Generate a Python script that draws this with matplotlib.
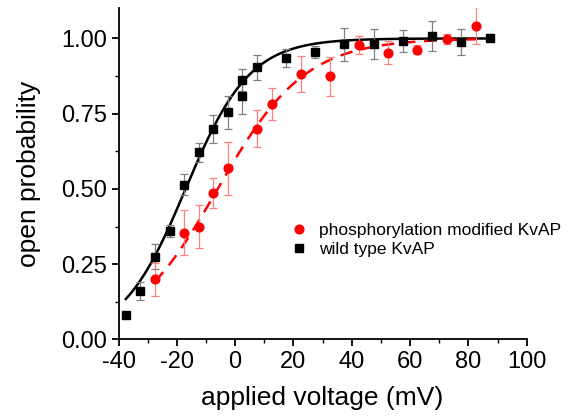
import numpy as np
import matplotlib
matplotlib.use("Agg")
import matplotlib.pyplot as plt
from matplotlib.ticker import MultipleLocator

plt.rcParams['font.family'] = ['Liberation Sans', 'DejaVu Sans']
plt.rcParams['axes.unicode_minus'] = False

# wild type KvAP
wt_v = [-37.5, -32.5, -27.5, -22.5, -17.5, -12.5, -7.5, -2.5, 2.5, 2.5, 7.5,
        17.5, 27.5, 37.5, 47.5, 57.5, 67.5, 77.5, 87.5]
wt_p = [0.08, 0.16, 0.275, 0.36, 0.514, 0.622, 0.70, 0.754, 0.861, 0.81, 0.904,
        0.934, 0.954, 0.98, 0.983, 0.992, 1.009, 0.989, 1.003]
wt_err = [0.0, 0.03, 0.042, 0.02, 0.035, 0.031, 0.047, 0.056, 0.036, 0.06, 0.042,
          0.03, 0.02, 0.054, 0.05, 0.036, 0.05, 0.044, 0.012]

# phosphorylation modified KvAP
ph_v = [-27.5, -17.5, -12.5, -7.5, -2.5, 7.5, 12.5, 22.5, 32.5, 42.5, 52.5,
        62.5, 72.5, 82.5]
ph_p = [0.20, 0.354, 0.375, 0.485, 0.568, 0.70, 0.782, 0.881, 0.875, 0.979,
        0.953, 0.963, 0.997, 1.042]
ph_err = [0.055, 0.075, 0.072, 0.05, 0.087, 0.062, 0.053, 0.06, 0.065, 0.03,
          0.039, 0.015, 0.017, 0.062]

# Boltzmann fit parameters (V1/2, slope)
wt_fit = (-17.0, 11.0)
ph_fit = (-6.0, 15.0)

fig = plt.figure(figsize=(5.70, 4.18), dpi=100)
ax = fig.add_axes([0.208, 0.188, 0.716, 0.792])

def boltz(v, p):
    return 1.0 / (1.0 + np.exp(-(v - p[0]) / p[1]))

vw = np.linspace(min(wt_v), max(wt_v), 300)
ax.plot(vw, boltz(vw, wt_fit), color='black', lw=1.8, zorder=2)
vp = np.linspace(min(ph_v), max(ph_v), 300)
ax.plot(vp, boltz(vp, ph_fit), color='red', lw=1.8, dashes=(5, 3.5), zorder=2)

ax.errorbar(wt_v, wt_p, yerr=wt_err, fmt='none', ecolor=(0.5, 0.5, 0.5),
            elinewidth=0.9, capsize=3, capthick=0.9, zorder=3)
ax.errorbar(ph_v, ph_p, yerr=ph_err, fmt='none', ecolor=(1.0, 0.5, 0.5),
            elinewidth=0.9, capsize=3, capthick=0.9, zorder=3)

ax.plot(ph_v, ph_p, 'o', color='red', ms=6.3, mec='red', zorder=4,
        label='phosphorylation modified KvAP')
ax.plot(wt_v, wt_p, 's', color='black', ms=5.6, mec='black', zorder=5,
        label='wild type KvAP')

ax.set_xlim(-40, 100)
ax.set_ylim(0, 1.10)
ax.xaxis.set_major_locator(MultipleLocator(20))
ax.xaxis.set_minor_locator(MultipleLocator(10))
ax.yaxis.set_major_locator(MultipleLocator(0.25))
ax.yaxis.set_minor_locator(MultipleLocator(0.125))
ax.yaxis.set_major_formatter(plt.FuncFormatter(lambda v, _: f"{v:.2f}"))
for s in ['top', 'right']:
    ax.spines[s].set_visible(False)
for s in ['left', 'bottom']:
    ax.spines[s].set_linewidth(1.3)
ax.tick_params(which='major', direction='out', length=5, width=1.3, labelsize=17)
ax.tick_params(which='minor', direction='out', length=3, width=1.0)

ax.set_xlabel('applied voltage (mV)', fontsize=19, labelpad=9)
ax.set_ylabel('open probability', fontsize=19, labelpad=14)

ax.legend(loc='upper left', bbox_to_anchor=(0.428, 0.353), frameon=False,
          fontsize=12.5, handlelength=0.7, handletextpad=0.8,
          labelspacing=0.25, borderaxespad=0.0, borderpad=0.0)

fig.savefig('out.png', dpi=100)
